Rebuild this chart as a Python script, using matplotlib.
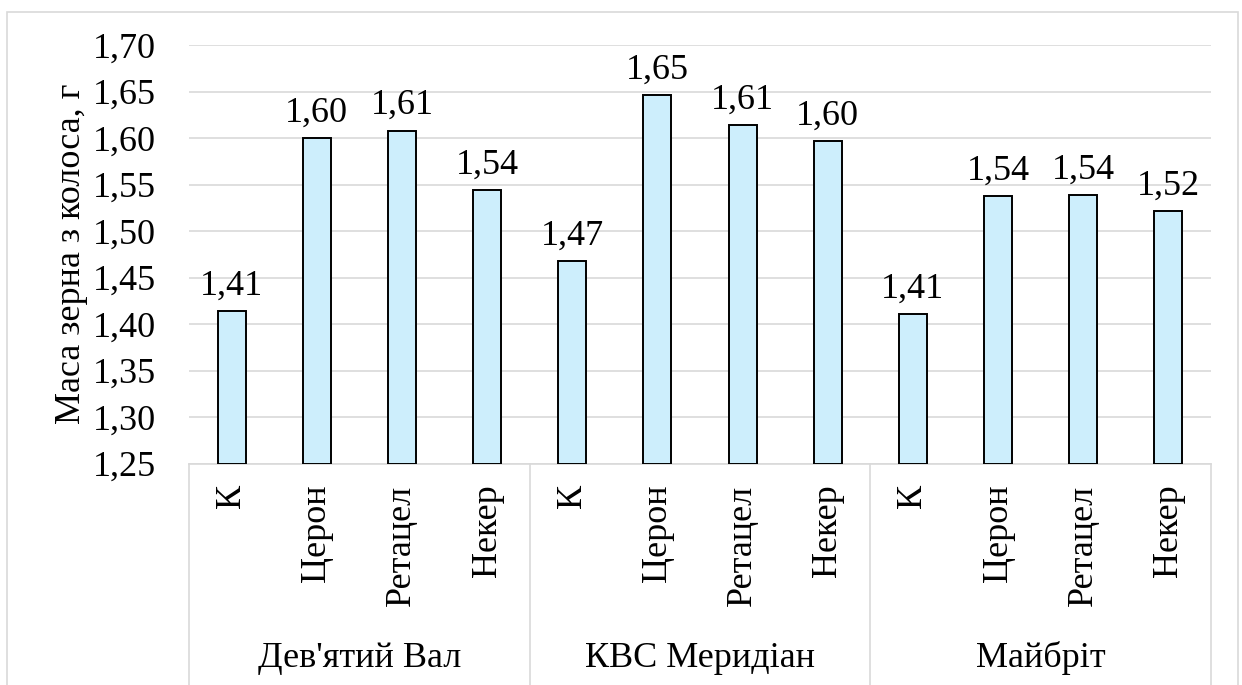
import matplotlib
matplotlib.use('Agg')
import matplotlib.pyplot as plt
from matplotlib.patches import Rectangle
import numpy as np

plt.rcParams['font.family'] = ['Liberation Serif', 'DejaVu Serif']

# data
varieties = ["Дев'ятий Вал", "КВС Меридіан", "Майбріт"]
treatments = ["К", "Церон", "Ретацел", "Некер"]
mass_devyatyi = [1.414, 1.600, 1.608, 1.544]
mass_meridian = [1.468, 1.646, 1.614, 1.597]
mass_maibrit = [1.411, 1.538, 1.539, 1.521]
y_ticks = [1.25, 1.30, 1.35, 1.40, 1.45, 1.50, 1.55, 1.60, 1.65, 1.70]

values = mass_devyatyi + mass_meridian + mass_maibrit
n_t = len(treatments)
x = np.arange(len(values))
fs = 26
ff = 'Liberation Serif'

fig = plt.figure(figsize=(12.42, 6.85), dpi=100)
# outer chart border
fig.patches.append(Rectangle((7 / 1242, -0.01), 1231 / 1242, 1 - 12 / 685 + 0.01,
                             transform=fig.transFigure, fill=False,
                             edgecolor='#d9d9d9', linewidth=1.2))

ax = fig.add_axes([189 / 1242, 1 - 463.5 / 685, (1211 - 189) / 1242, (463.5 - 45) / 685])

ax.bar(x, [v - 1.25 for v in values], bottom=1.25, width=0.33,
       color='#cdeefc', edgecolor='black', linewidth=1.4, zorder=3)

for xi, v in zip(x, values):
    ax.annotate(f"{v:.2f}".replace('.', ','), (xi, v), xytext=(0, 6),
                textcoords='offset points', ha='center', va='bottom',
                fontsize=fs, family=ff)

ax.set_xlim(-0.5, len(values) - 0.5)
ax.set_ylim(1.25, 1.70)
ax.set_yticks(y_ticks)
ax.set_yticklabels([f"{t:.2f}".replace('.', ',') for t in y_ticks], fontsize=fs, family=ff)
ax.tick_params(axis='y', length=0, pad=24)
ax.set_xticks([])
ax.grid(axis='y', color='#d9d9d9', linewidth=1.2, zorder=0)
ax.set_axisbelow(True)
for s in ['left', 'right', 'top']:
    ax.spines[s].set_visible(False)
ax.spines['bottom'].set_color('#d9d9d9')
ax.spines['bottom'].set_linewidth(1.2)

ax.set_ylabel("Маса зерна з колоса, г", fontsize=fs, family=ff, labelpad=3)

trans = ax.get_xaxis_transform()
# category labels
for xi, lab in zip(x, treatments * len(varieties)):
    ax.text(xi, -0.05, lab, rotation=90, ha='center', va='top',
            fontsize=fs, family=ff, transform=trans)
# group labels and separators
for g, name in enumerate(varieties):
    ax.text(g * n_t + (n_t - 1) / 2, -0.465, name, ha='center', va='center',
            fontsize=fs, family=ff, transform=trans)
for g in range(len(varieties) + 1):
    ax.plot([g * n_t - 0.5] * 2, [0, -0.6], color='#d9d9d9', linewidth=1.2,
            transform=trans, clip_on=False)

fig.savefig('out.png', dpi=100)
